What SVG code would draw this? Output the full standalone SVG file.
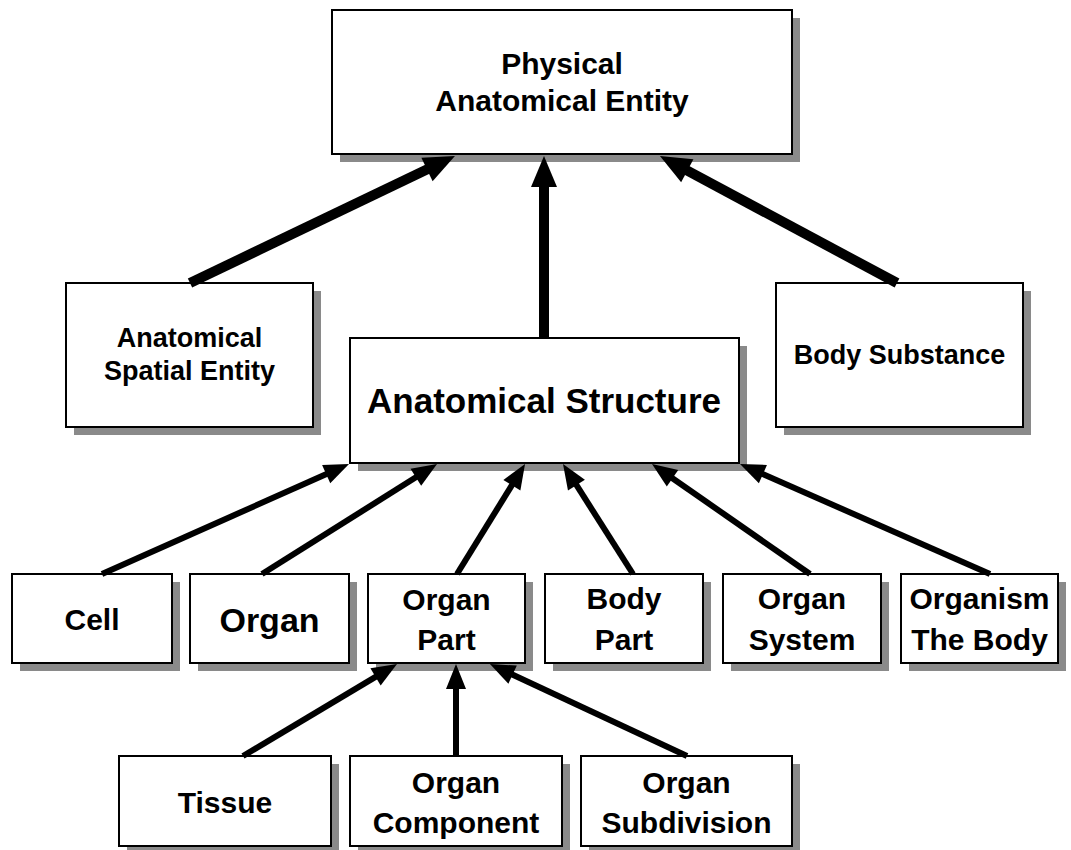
<svg xmlns="http://www.w3.org/2000/svg" width="1071" height="850" viewBox="0 0 1071 850">
<style>
.sh{fill:#8a8a8a;stroke:none}
.bx{fill:#fff;stroke:#000;stroke-width:2}
text{font-family:"Liberation Sans",Arial,Helvetica,sans-serif;font-weight:bold;fill:#000;text-anchor:middle}
.c1{stroke:#000;stroke-width:10;fill:none;marker-end:url(#ah1)}
.c2{stroke:#000;stroke-width:6;fill:none;marker-end:url(#ah2)}
</style>
<defs>
<marker id="ah1" markerUnits="userSpaceOnUse" markerWidth="32" markerHeight="28" refX="0" refY="13" orient="auto" overflow="visible">
<path d="M-1,0 L30,13 L-1,26 Z" fill="#000"/>
</marker>
<marker id="ah2" markerUnits="userSpaceOnUse" markerWidth="26" markerHeight="22" refX="0" refY="10" orient="auto" overflow="visible">
<path d="M-1,0 L24,10 L-1,20 Z" fill="#000"/>
</marker>
</defs>
<rect width="1071" height="850" fill="#fff"/>
<g id="physical-anatomical-entity">
<rect class="sh" x="340" y="18" width="460" height="144"/>
<rect class="bx" x="332" y="10" width="460" height="144"/>
<text x="562" y="74" font-size="30">Physical</text>
<text x="562" y="111" font-size="30">Anatomical Entity</text>
</g>
<g id="anatomical-spatial-entity">
<rect class="sh" x="74" y="291" width="247" height="144"/>
<rect class="bx" x="66" y="283" width="247" height="144"/>
<text x="189.5" y="347" font-size="27">Anatomical</text>
<text x="189.5" y="380" font-size="27">Spatial Entity</text>
</g>
<g id="anatomical-structure">
<rect class="sh" x="358" y="346" width="389" height="125"/>
<rect class="bx" x="350" y="338" width="389" height="125"/>
<text x="544" y="413" font-size="35">Anatomical Structure</text>
</g>
<g id="body-substance">
<rect class="sh" x="784" y="291" width="247" height="144"/>
<rect class="bx" x="776" y="283" width="247" height="144"/>
<text x="899.5" y="364" font-size="27">Body Substance</text>
</g>
<g id="cell">
<rect class="sh" x="20" y="582" width="160" height="89"/>
<rect class="bx" x="12" y="574" width="160" height="89"/>
<text x="92" y="630" font-size="30">Cell</text>
</g>
<g id="organ">
<rect class="sh" x="198" y="582" width="159" height="89"/>
<rect class="bx" x="190" y="574" width="159" height="89"/>
<text x="269.5" y="632" font-size="34">Organ</text>
</g>
<g id="organ-part">
<rect class="sh" x="376" y="582" width="157" height="89"/>
<rect class="bx" x="368" y="574" width="157" height="89"/>
<text x="446.5" y="610" font-size="30">Organ</text>
<text x="446.5" y="650" font-size="30">Part</text>
</g>
<g id="body-part">
<rect class="sh" x="553" y="582" width="158" height="89"/>
<rect class="bx" x="545" y="574" width="158" height="89"/>
<text x="624" y="609" font-size="30">Body</text>
<text x="624" y="650" font-size="30">Part</text>
</g>
<g id="organ-system">
<rect class="sh" x="731" y="582" width="158" height="89"/>
<rect class="bx" x="723" y="574" width="158" height="89"/>
<text x="802" y="609" font-size="30">Organ</text>
<text x="802" y="650" font-size="30">System</text>
</g>
<g id="organism-the-body">
<rect class="sh" x="909" y="582" width="157" height="89"/>
<rect class="bx" x="901" y="574" width="157" height="89"/>
<text x="979.5" y="609" font-size="30">Organism</text>
<text x="979.5" y="650" font-size="30">The Body</text>
</g>
<g id="tissue">
<rect class="sh" x="127" y="764" width="212" height="90"/>
<rect class="bx" x="119" y="756" width="212" height="90"/>
<text x="225" y="813" font-size="30">Tissue</text>
</g>
<g id="organ-component">
<rect class="sh" x="358" y="764" width="212" height="90"/>
<rect class="bx" x="350" y="756" width="212" height="90"/>
<text x="456" y="793" font-size="30">Organ</text>
<text x="456" y="833" font-size="30">Component</text>
</g>
<g id="organ-subdivision">
<rect class="sh" x="589" y="764" width="211" height="90"/>
<rect class="bx" x="581" y="756" width="211" height="90"/>
<text x="686.5" y="793" font-size="30">Organ</text>
<text x="686.5" y="833" font-size="30">Subdivision</text>
</g>
<g id="connectors">
<line class="c1" x1="190" y1="283" x2="427.9" y2="169"/>
<line class="c1" x1="544" y1="338" x2="544" y2="186"/>
<line class="c1" x1="897" y1="283" x2="686.4" y2="170.2"/>
<line class="c2" x1="102" y1="574" x2="327.1" y2="473.8"/>
<line class="c2" x1="262" y1="574" x2="416.7" y2="476.8"/>
<line class="c2" x1="457" y1="574" x2="512.4" y2="484.4"/>
<line class="c2" x1="633" y1="574" x2="575.9" y2="484.2"/>
<line class="c2" x1="810" y1="574" x2="671.7" y2="477.7"/>
<line class="c2" x1="990" y1="574" x2="762" y2="473.7"/>
<line class="c2" x1="243" y1="756" x2="376.4" y2="676.3"/>
<line class="c2" x1="456" y1="756" x2="456" y2="688"/>
<line class="c2" x1="687" y1="756" x2="511.7" y2="674.2"/>
</g>
</svg>
